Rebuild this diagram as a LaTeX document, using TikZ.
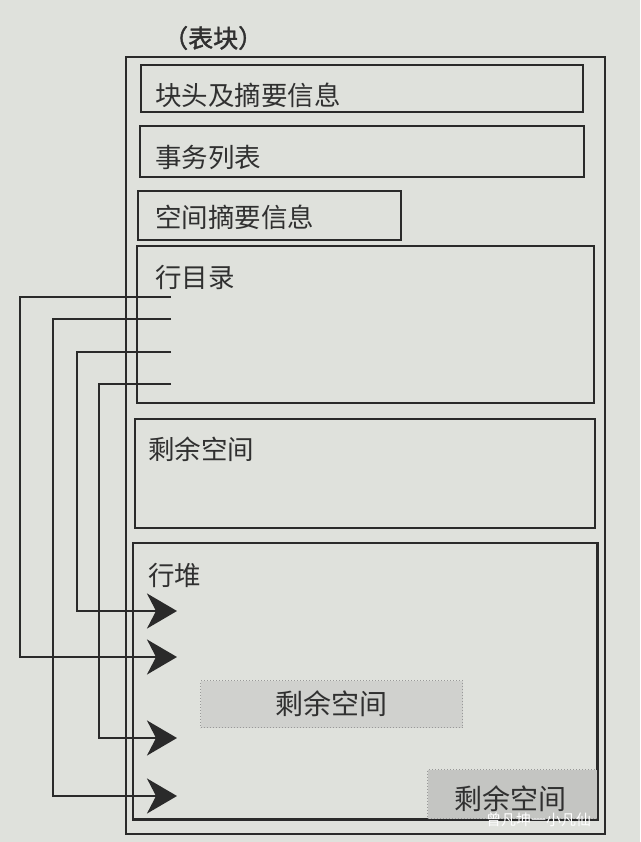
\documentclass[tikz,border=0pt]{standalone}
\usepackage{fontspec}
\newfontfamily\cjk{Noto Sans CJK SC}
\newfontfamily\cjkb[FakeBold=1.6]{Noto Sans CJK SC}
\usetikzlibrary{arrows.meta}
\definecolor{paper}{HTML}{DFE1DC}
\definecolor{ink}{HTML}{2A2A2A}
\definecolor{txt}{HTML}{303030}
\definecolor{graya}{HTML}{D0D1CE}
\definecolor{grayb}{HTML}{C4C5C2}
\tikzset{
  box/.style={draw=ink, line width=2.3pt, rectangle, inner sep=0pt, anchor=north west},
  lbl/.style={font=\cjk\fontsize{26.5}{26.5}\selectfont, text=txt, inner sep=0pt, anchor=west},
  freebox/.style={draw=gray!80, dotted, line width=1pt, rectangle, inner sep=0pt, anchor=north west},
  link/.style={draw=ink, line width=2.3pt, -{Stealth[length=30pt, width=35pt, inset=9pt]}},
}
\begin{document}
\begin{tikzpicture}[x=1pt, y=-1pt]
\useasboundingbox (0,0) rectangle (640,842);
\fill[paper] (0,0) rectangle (640,842);

\node[lbl, font=\cjkb\fontsize{25}{25}\selectfont] (title) at (163,38) {（表块）};

% outer block
\node[box, minimum width=479pt, minimum height=777pt] (outer) at (125,56) {};

% inner boxes
\node[box, minimum width=442pt, minimum height=47pt] (b1) at (140,64) {};
\node[lbl] (t1) at (155,95) {块头及摘要信息};
\node[box, minimum width=444pt, minimum height=51pt] (b2) at (139,125) {};
\node[lbl] (t2) at (155,157) {事务列表};
\node[box, minimum width=263pt, minimum height=49pt] (b3) at (137,190) {};
\node[lbl] (t3) at (155,217) {空间摘要信息};
\node[box, minimum width=457pt, minimum height=157pt] (b4) at (136,245) {};
\node[lbl] (t4) at (155,277) {行目录};
\node[box, minimum width=460pt, minimum height=109pt] (b5) at (134,418) {};
\node[lbl] (t5) at (148,449) {剩余空间};
\node[box, minimum width=464pt, minimum height=276pt] (b6) at (132,542) {};
\node[lbl] (t6) at (148,575) {行堆};

% free space inside row heap
\node[freebox, fill=graya, minimum width=262pt, minimum height=47pt] (fa) at (200,680) {};
\node[lbl, anchor=center, font=\cjk\fontsize{28}{28}\selectfont] (fat) at (fa.center) {剩余空间};
\node[freebox, fill=grayb, minimum width=170pt, minimum height=49pt] (fb) at (427,769) {};
\node[lbl, anchor=center, font=\cjk\fontsize{28}{28}\selectfont] (fbt) at ([xshift=-2pt,yshift=-5pt]fb.center) {剩余空间};
\draw[ink, line width=2.3pt] (b6.south west) -- (b6.south east) -- (b6.north east);

% row directory entries
\coordinate (s1) at (171,297);
\coordinate (s2) at (171,319);
\coordinate (s3) at (171,352);
\coordinate (s4) at (171,384);
% row heap targets
\coordinate (r1) at (177,611);
\coordinate (r2) at (177,657);
\coordinate (r3) at (177,738);
\coordinate (r4) at (177,796);

\draw[link] (s1) -- ++(-151,0) |- (r2);
\draw[link] (s2) -- ++(-118,0) |- (r4);
\draw[link] (s3) -- ++(-94,0) |- (r1);
\draw[link] (s4) -- ++(-72,0) |- (r3);

% watermark
\node[font=\cjk\fontsize{15}{15}\selectfont, text=white, inner sep=0pt, anchor=west] (wm) at (486,820) {曾凡坤一小凡仙};
\end{tikzpicture}
\end{document}
